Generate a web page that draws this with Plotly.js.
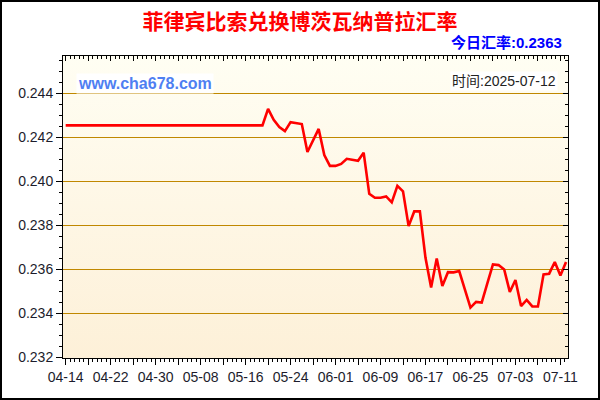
<!DOCTYPE html>
<html>
<head>
<meta charset="utf-8">
<script src="https://cdn.plot.ly/plotly-3.0.1.min.js"></script>
<style>
  body { margin: 0; background: #fff; }
  #wrap { position: relative; width: 600px; height: 400px; background: #fff; }
  #plotbg { position: absolute; left: 63px; top: 56px; width: 505px; height: 302px;
            background: linear-gradient(to bottom, #FFFEF3, #FDF0D8); }
  #chart { position: absolute; left: 0; top: 0; width: 600px; height: 400px; }
</style>
</head>
<body>
<div id="wrap">
  <div id="plotbg"></div>
  <div id="chart"></div>
</div>
<script>
"use strict"

// PHP -> BWP, one point per day starting 2025-04-14
var start_date = '2025-04-14';
var rates = [
    0.24255, 0.24255, 0.24255, 0.24255, 0.24255, 0.24255, 0.24255, 0.24255, 0.24255, 0.24255,
    0.24255, 0.24255, 0.24255, 0.24255, 0.24255, 0.24255, 0.24255, 0.24255, 0.24255, 0.24255,
    0.24255, 0.24255, 0.24255, 0.24255, 0.24255, 0.24255, 0.24255, 0.24255, 0.24255, 0.24255,
    0.24255, 0.24255, 0.24255, 0.24255, 0.24255, 0.24255,
    0.24330, 0.24280, 0.24248, 0.24229, 0.24270, 0.24265, 0.24261, 0.24134, 0.24189, 0.24239,
    0.24120, 0.24071, 0.24071, 0.24080, 0.24103, 0.24100, 0.24094, 0.24131, 0.23944, 0.23926,
    0.23926, 0.23932, 0.23905, 0.23980, 0.23955, 0.23797, 0.23864, 0.23864, 0.23653, 0.23518,
    0.23650, 0.23525, 0.23588, 0.23587, 0.23593, 0.23510, 0.23427, 0.23453, 0.23450, 0.23537,
    0.23623, 0.23620, 0.23600, 0.23498, 0.23552, 0.23434, 0.23462, 0.23432, 0.23432, 0.23578,
    0.23581, 0.23634, 0.23573, 0.23634
];
var title_text = '菲律宾比索兑换博茨瓦纳普拉汇率';
var today_text = '今日汇率:0.2363';
var site_text = 'www.cha678.com';
var time_text = '时间:2025-07-12';

var DAY = 86400000;
var GOLD = '#C08800';

function fmt_day(ms) {
    var d = new Date(ms);
    var m = ('0' + (d.getUTCMonth() + 1)).slice(-2);
    var dd = ('0' + d.getUTCDate()).slice(-2);
    return d.getUTCFullYear() + '-' + m + '-' + dd;
}

var t0 = Date.parse(start_date + 'T00:00:00Z');
var dates = [];
for (var i = 0; i < rates.length; i++) {
    dates.push(fmt_day(t0 + i * DAY));
}

// big ticks every 4 days, labels every 8
var tick_vals = [];
var tick_text = [];
for (var i = 0; i < dates.length; i += 4) {
    tick_vals.push(dates[i]);
    tick_text.push((i % 8 == 0) ? dates[i].slice(5) : '');
}

// plot box in pixels
var L = 63, T = 56, W = 505, H = 302;
function px(x) { return (x - L) / W; }
function py(y) { return (T + H - y) / H; }

var x_range = [new Date(t0 - 11.5 * 3600000).toISOString(), new Date(t0 + 89.35 * DAY).toISOString()];
// 44px per 0.002 step
var y_step_px = 44;
var y_lo = 0.232 - 0.5 * 0.002 / y_step_px;
var y_range = [y_lo, y_lo + H * 0.002 / y_step_px];

var dp = [
    {
        x: dates,
        y: rates,
        type: 'scatter',
        mode: 'lines',
        line: {color: '#FF0000', width: 2.6},
        hoverinfo: 'skip'
    },
    {
        // carries the mirrored top/right axes
        x: dates,
        y: rates,
        xaxis: 'x2',
        yaxis: 'y2',
        type: 'scatter',
        mode: 'lines',
        line: {color: 'rgba(0,0,0,0)', width: 0},
        hoverinfo: 'skip',
        showlegend: false
    }
];

var tick_font = {family: 'Liberation Sans, Arial, sans-serif', size: 14, color: '#1c1c2c'};

var layout = {
    width: 600,
    height: 400,
    margin: {l: L, r: 600 - L - W, t: T, b: 400 - T - H},
    paper_bgcolor: 'rgba(0,0,0,0)',
    plot_bgcolor: 'rgba(0,0,0,0)',
    showlegend: false,
    title: {
        text: title_text,
        xref: 'container', x: 0.5, xanchor: 'center',
        yref: 'container', y: 1 - 22 / 400, yanchor: 'middle',
        font: {family: 'Noto Sans CJK SC, sans-serif', size: 21, color: '#FF0000', weight: 'bold'}
    },
    xaxis: {
        type: 'date',
        range: x_range,
        tickmode: 'array',
        tickvals: tick_vals,
        ticktext: tick_text,
        ticks: 'outside',
        ticklen: 6,
        tickcolor: '#000',
        tickfont: tick_font,
        showgrid: false,
        gridcolor: GOLD,
        zeroline: false,
        showline: true,
        linecolor: '#000',
        linewidth: 1,
        minor: {dtick: 0.8 * DAY, tick0: start_date, ticks: 'outside', ticklen: 3, tickcolor: '#000', showgrid: false, gridcolor: GOLD},
        fixedrange: true
    },
    yaxis: {
        range: y_range,
        tick0: 0.232,
        dtick: 0.002,
        tickformat: '.3f',
        ticks: 'outside',
        ticklen: 6,
        tickcolor: '#000',
        tickfont: tick_font,
        showgrid: true,
        gridcolor: GOLD,
        gridwidth: 1.6,
        zeroline: false,
        showline: true,
        linecolor: '#000',
        linewidth: 1,
        minor: {dtick: 0.0005, ticks: 'outside', ticklen: 3, tickcolor: '#000', showgrid: false, gridcolor: GOLD},
        fixedrange: true
    },
    xaxis2: {
        type: 'date',
        overlaying: 'x',
        side: 'top',
        range: x_range,
        tickmode: 'array',
        tickvals: tick_vals,
        ticks: 'inside',
        ticklen: 5,
        tickcolor: '#000',
        showticklabels: false,
        showgrid: false,
        gridcolor: GOLD,
        zeroline: false,
        showline: true,
        linecolor: '#000',
        minor: {dtick: 0.8 * DAY, tick0: start_date, ticks: 'inside', ticklen: 3, tickcolor: '#000', showgrid: false, gridcolor: GOLD},
        fixedrange: true
    },
    yaxis2: {
        overlaying: 'y',
        side: 'right',
        range: y_range,
        tick0: 0.232,
        dtick: 0.002,
        ticks: 'inside',
        ticklen: 5,
        tickcolor: '#000',
        showticklabels: false,
        showgrid: false,
        gridcolor: GOLD,
        zeroline: false,
        showline: true,
        linecolor: '#000',
        minor: {dtick: 0.0005, ticks: 'inside', ticklen: 3, tickcolor: '#000', showgrid: false, gridcolor: GOLD},
        fixedrange: true
    },
    shapes: [{
        type: 'rect',
        xref: 'paper', yref: 'paper',
        x0: px(1), x1: px(599), y0: py(399), y1: py(1),
        line: {color: '#000', width: 2},
        fillcolor: 'rgba(0,0,0,0)'
    }],
    annotations: [
        {
            text: today_text,
            xref: 'paper', yref: 'paper',
            x: px(564), y: py(42), xanchor: 'right', yanchor: 'middle',
            showarrow: false,
            font: {family: 'Liberation Sans, Noto Sans CJK SC, sans-serif', size: 15, color: '#0000FF', weight: 'bold'}
        },
        {
            text: site_text,
            xref: 'paper', yref: 'paper',
            x: px(76), y: py(83), xanchor: 'left', yanchor: 'middle',
            showarrow: false,
            bgcolor: '#FFFFFF',
            borderpad: 1,
            font: {family: 'Liberation Sans, Arial, sans-serif', size: 16, color: '#4F7FF2', weight: 'bold'}
        },
        {
            text: time_text,
            xref: 'paper', yref: 'paper',
            x: px(558), y: py(81), xanchor: 'right', yanchor: 'middle',
            showarrow: false,
            bgcolor: '#FFFFFF',
            borderpad: 1,
            font: {family: 'Liberation Sans, Noto Sans CJK SC, sans-serif', size: 14, color: '#222222'}
        }
    ]
};

Plotly.newPlot('chart', dp, layout, {staticPlot: true});
</script>
</body>
</html>
